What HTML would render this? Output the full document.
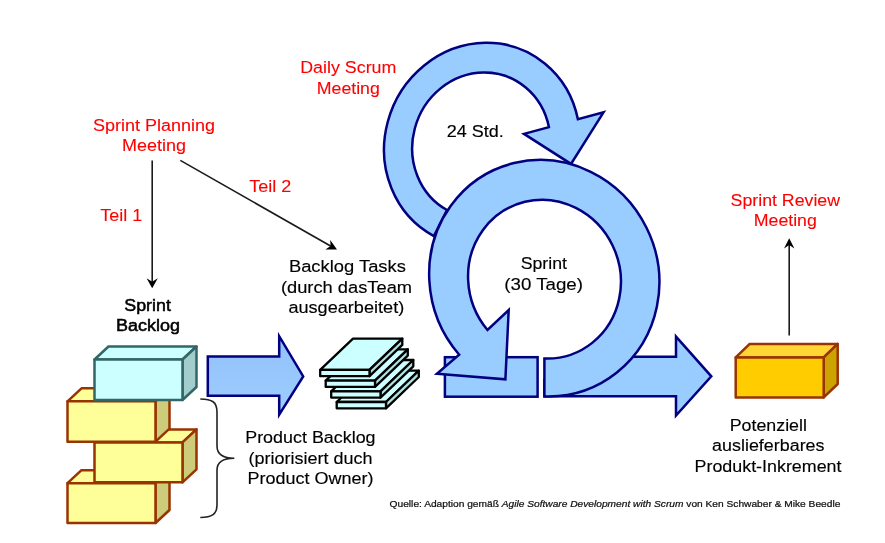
<!DOCTYPE html>
<html><head><meta charset="utf-8">
<style>
html,body{margin:0;padding:0;background:#fff;}
svg{display:block;filter:blur(0.45px);}
text{font-family:"Liberation Sans",sans-serif;}
.r{fill:#ff0000;font-size:18px;text-anchor:middle;stroke:#ff0000;stroke-width:0.1;}
.k{fill:#000;font-size:18px;text-anchor:middle;stroke:#000;stroke-width:0.15;}
.k2{fill:#000;font-size:18px;text-anchor:middle;stroke:#000;stroke-width:0.55;}
.b{fill:#99ccff;stroke:#000080;stroke-width:2.5;stroke-linejoin:miter;}
</style></head>
<body>
<svg width="885" height="543" viewBox="0 0 885 543">
<defs>
<linearGradient id="ag" x1="0" y1="0" x2="0" y2="1"><stop offset="0" stop-color="#91c1fb"/><stop offset="1" stop-color="#9ecdff"/></linearGradient>
</defs>
<rect width="885" height="543" fill="#ffffff"/>

<!-- thin arrows -->
<g stroke="#1a1a1a" stroke-width="1.6" fill="none">
<line x1="152.2" y1="160.4" x2="152.2" y2="282"/>
<line x1="180.3" y1="160.4" x2="331" y2="246.2"/>
<line x1="789.2" y1="244.5" x2="789.2" y2="335.5"/>
</g>
<g fill="#000">
<polygon points="152.2,288.2 146.6,278.3 152.2,281.8 157.8,278.3"/>
<polygon points="337,249.6 325.4,249.4 330.6,246 330.2,240"/>
<polygon points="789.2,238.2 794.4,248.4 789.2,245 784,248.4"/>
</g>

<!-- yellow / cyan boxes -->
<g stroke="#993300" stroke-width="2.5" stroke-linejoin="round">
 <!-- box 3 (bottom) -->
 <polygon points="67.5,483.2 81.5,470.2 169.5,470.2 155.5,483.2" fill="#ffff99"/>
 <polygon points="155.5,483.2 169.5,470.2 169.5,510.0 155.5,523.0" fill="#cccc7a"/>
 <rect x="67.5" y="483.2" width="88" height="39.8" fill="#ffff99"/>
 <!-- box 2 (middle) -->
 <polygon points="94.5,442.4 108.5,429.4 196.5,429.4 182.5,442.4" fill="#ffff99"/>
 <polygon points="182.5,442.4 196.5,429.4 196.5,469.3 182.5,482.3" fill="#cccc7a"/>
 <rect x="94.5" y="442.4" width="88" height="39.9" fill="#ffff99"/>
 <!-- box 1 (top yellow) -->
 <polygon points="67.5,401.3 81.5,388.3 169.5,388.3 155.5,401.3" fill="#ffff99"/>
 <polygon points="155.5,401.3 169.5,388.3 169.5,428.7 155.5,441.7" fill="#cccc7a"/>
 <rect x="67.5" y="401.3" width="88" height="40.4" fill="#ffff99"/>
</g>
<g stroke="#336666" stroke-width="2.5" stroke-linejoin="round">
 <polygon points="94.5,359.5 108.5,346.5 196.5,346.5 182.5,359.5" fill="#ccffff"/>
 <polygon points="182.5,359.5 196.5,346.5 196.5,387 182.5,400" fill="#a3cccc"/>
 <rect x="94.5" y="359.5" width="88" height="40.5" fill="#ccffff"/>
</g>

<!-- brace -->
<path d="M200.3,399 C212,399 217,402 217,412 L217,446 C217,454 222,458.2 234.3,458.2 C222,458.2 217,462 217,470 L217,505 C217,514 212,517.5 200.3,517.5" fill="none" stroke="#222" stroke-width="1.6"/>

<!-- first block arrow -->
<polygon points="207.8,356.4 279.2,356.4 279.2,336.2 303.2,376.4 279.2,414.6 279.2,395.8 207.8,395.8" fill="url(#ag)" stroke="#000080" stroke-width="2.5"/>

<!-- stack of sheets -->
<g stroke="#000" stroke-width="2.3" stroke-linejoin="round">
 <g transform="translate(16.5,32.1)"><polygon points="320.2,369.9 353,338.6 402.3,338.6 369.5,369.9" fill="#ccffff"/><polygon points="369.5,369.9 402.3,338.6 402.3,344.9 369.5,376.2" fill="#b0e0e0"/><rect x="320.2" y="369.9" width="49.3" height="6.3" fill="#ccffff"/></g>
 <g transform="translate(11,21.4)"><polygon points="320.2,369.9 353,338.6 402.3,338.6 369.5,369.9" fill="#ccffff"/><polygon points="369.5,369.9 402.3,338.6 402.3,344.9 369.5,376.2" fill="#b0e0e0"/><rect x="320.2" y="369.9" width="49.3" height="6.3" fill="#ccffff"/></g>
 <g transform="translate(5.5,10.7)"><polygon points="320.2,369.9 353,338.6 402.3,338.6 369.5,369.9" fill="#ccffff"/><polygon points="369.5,369.9 402.3,338.6 402.3,344.9 369.5,376.2" fill="#b0e0e0"/><rect x="320.2" y="369.9" width="49.3" height="6.3" fill="#ccffff"/></g>
 <g><polygon points="320.2,369.9 353,338.6 402.3,338.6 369.5,369.9" fill="#ccffff"/><polygon points="369.5,369.9 402.3,338.6 402.3,344.9 369.5,376.2" fill="#b0e0e0"/><rect x="320.2" y="369.9" width="49.3" height="6.3" fill="#ccffff"/></g>
</g>

<!-- small circular arrow (Daily Scrum) -->
<path class="b" d="M433.9,236.1 A96.86,103.16 24.83 0 1 387.7,122.0 A96.86,103.16 24.83 0 1 485.3,42.8 A96.86,103.16 24.83 0 1 577.9,119.2 L603.5,112.3 L571,163.9 L524,133.9 L548.9,127.1 A68.49,73.34 20.13 0 0 483.7,72.5 A68.49,73.34 20.13 0 0 414.8,128.5 A68.49,73.34 20.13 0 0 447.0,210.0 Z"/>

<!-- rect under big arrow head -->
<rect class="b" x="444.9" y="357.2" width="92.7" height="39.5"/>
<!-- right block arrow -->
<polygon class="b" points="544.4,380 600,380 600,356.7 676,356.7 676,336.6 711.3,376.3 676,415.6 676,396.3 544.4,396.3"/>
<!-- big circular arrow (Sprint) -->
<path class="b" d="M544.4,396.4 A114.03,119.27 -26.6 0 0 656.9,306.6 A114.03,119.27 -26.6 0 0 590.7,171.8 A114.03,119.27 -26.6 0 0 450.8,205.8 A114.03,119.27 -26.6 0 0 459.2,354.7 L436.9,373.8 L505.4,379.3 L508.7,310 L487.5,330.0 A75.91,79.85 -21.26 0 1 482.8,230.2 A75.91,79.85 -21.26 0 1 575.8,207.9 A75.91,79.85 -21.26 0 1 619.2,298.5 A75.91,79.85 -21.26 0 1 544.4,358.5 Z"/>

<!-- orange box -->
<g stroke="#993300" stroke-width="2.5" stroke-linejoin="round">
 <polygon points="735.7,357.4 749.7,343.9 837.7,343.9 823.7,357.4" fill="#ffd633"/>
 <polygon points="823.7,357.4 837.7,343.9 837.7,384 823.7,397.4" fill="#cca300"/>
 <rect x="735.7" y="357.4" width="88" height="40" fill="#ffcc00"/>
</g>

<!-- texts -->
<text class="r" transform="translate(154,130.7) scale(1.0,0.95)">Sprint Planning</text>
<text class="r" transform="translate(154,151.0) scale(1.0,0.95)">Meeting</text>
<text class="r" transform="translate(348.3,73.4) scale(0.992,0.95)">Daily Scrum</text>
<text class="r" transform="translate(348.3,94.1) scale(0.985,0.95)">Meeting</text>
<text class="r" transform="translate(121.2,220.9) scale(1.0,0.95)">Teil 1</text>
<text class="r" transform="translate(270.2,192.3) scale(1.0,0.95)">Teil 2</text>
<text class="r" transform="translate(785.3,205.7) scale(0.986,0.95)">Sprint Review</text>
<text class="r" transform="translate(785.3,225.9) scale(0.986,0.95)">Meeting</text>
<text class="k2" transform="translate(147.6,311.0) scale(0.99,0.95)">Sprint</text>
<text class="k2" transform="translate(148,331.4) scale(1.0,0.95)">Backlog</text>
<text class="k" transform="translate(347.4,271.6) scale(1.02,0.95)">Backlog Tasks</text>
<text class="k" transform="translate(346.5,292.6) scale(1.017,0.95)">(durch dasTeam</text>
<text class="k" transform="translate(346.3,312.9) scale(1.007,0.95)">ausgearbeitet)</text>
<text class="k" transform="translate(475.2,137.1) scale(1.0,0.95)">24 Std.</text>
<text class="k" transform="translate(543.8,269.4) scale(0.985,0.95)">Sprint</text>
<text class="k" transform="translate(543.6,289.6) scale(1.04,0.95)">(30 Tage)</text>
<text class="k" transform="translate(310.4,443.2) scale(0.995,0.95)">Product Backlog</text>
<text class="k" transform="translate(310.5,463.6) scale(1.0,0.95)">(priorisiert duch</text>
<text class="k" transform="translate(310.5,484.4) scale(1.0,0.95)">Product Owner)</text>
<text class="k" transform="translate(768.3,430.6) scale(0.99,0.95)">Potenziell</text>
<text class="k" transform="translate(768.3,451.0) scale(0.995,0.95)">auslieferbares</text>
<text class="k" transform="translate(768.0,471.5) scale(0.993,0.95)">Produkt-Inkrement</text>
<text transform="translate(389.6,507.2) scale(1.0,0.96)" font-size="10.2" fill="#111" stroke="#111" stroke-width="0.25">Quelle: Adaption gemäß <tspan font-style="italic">Agile Software Development with Scrum</tspan> von Ken Schwaber &amp; Mike Beedle</text>
</svg>
</body></html>
